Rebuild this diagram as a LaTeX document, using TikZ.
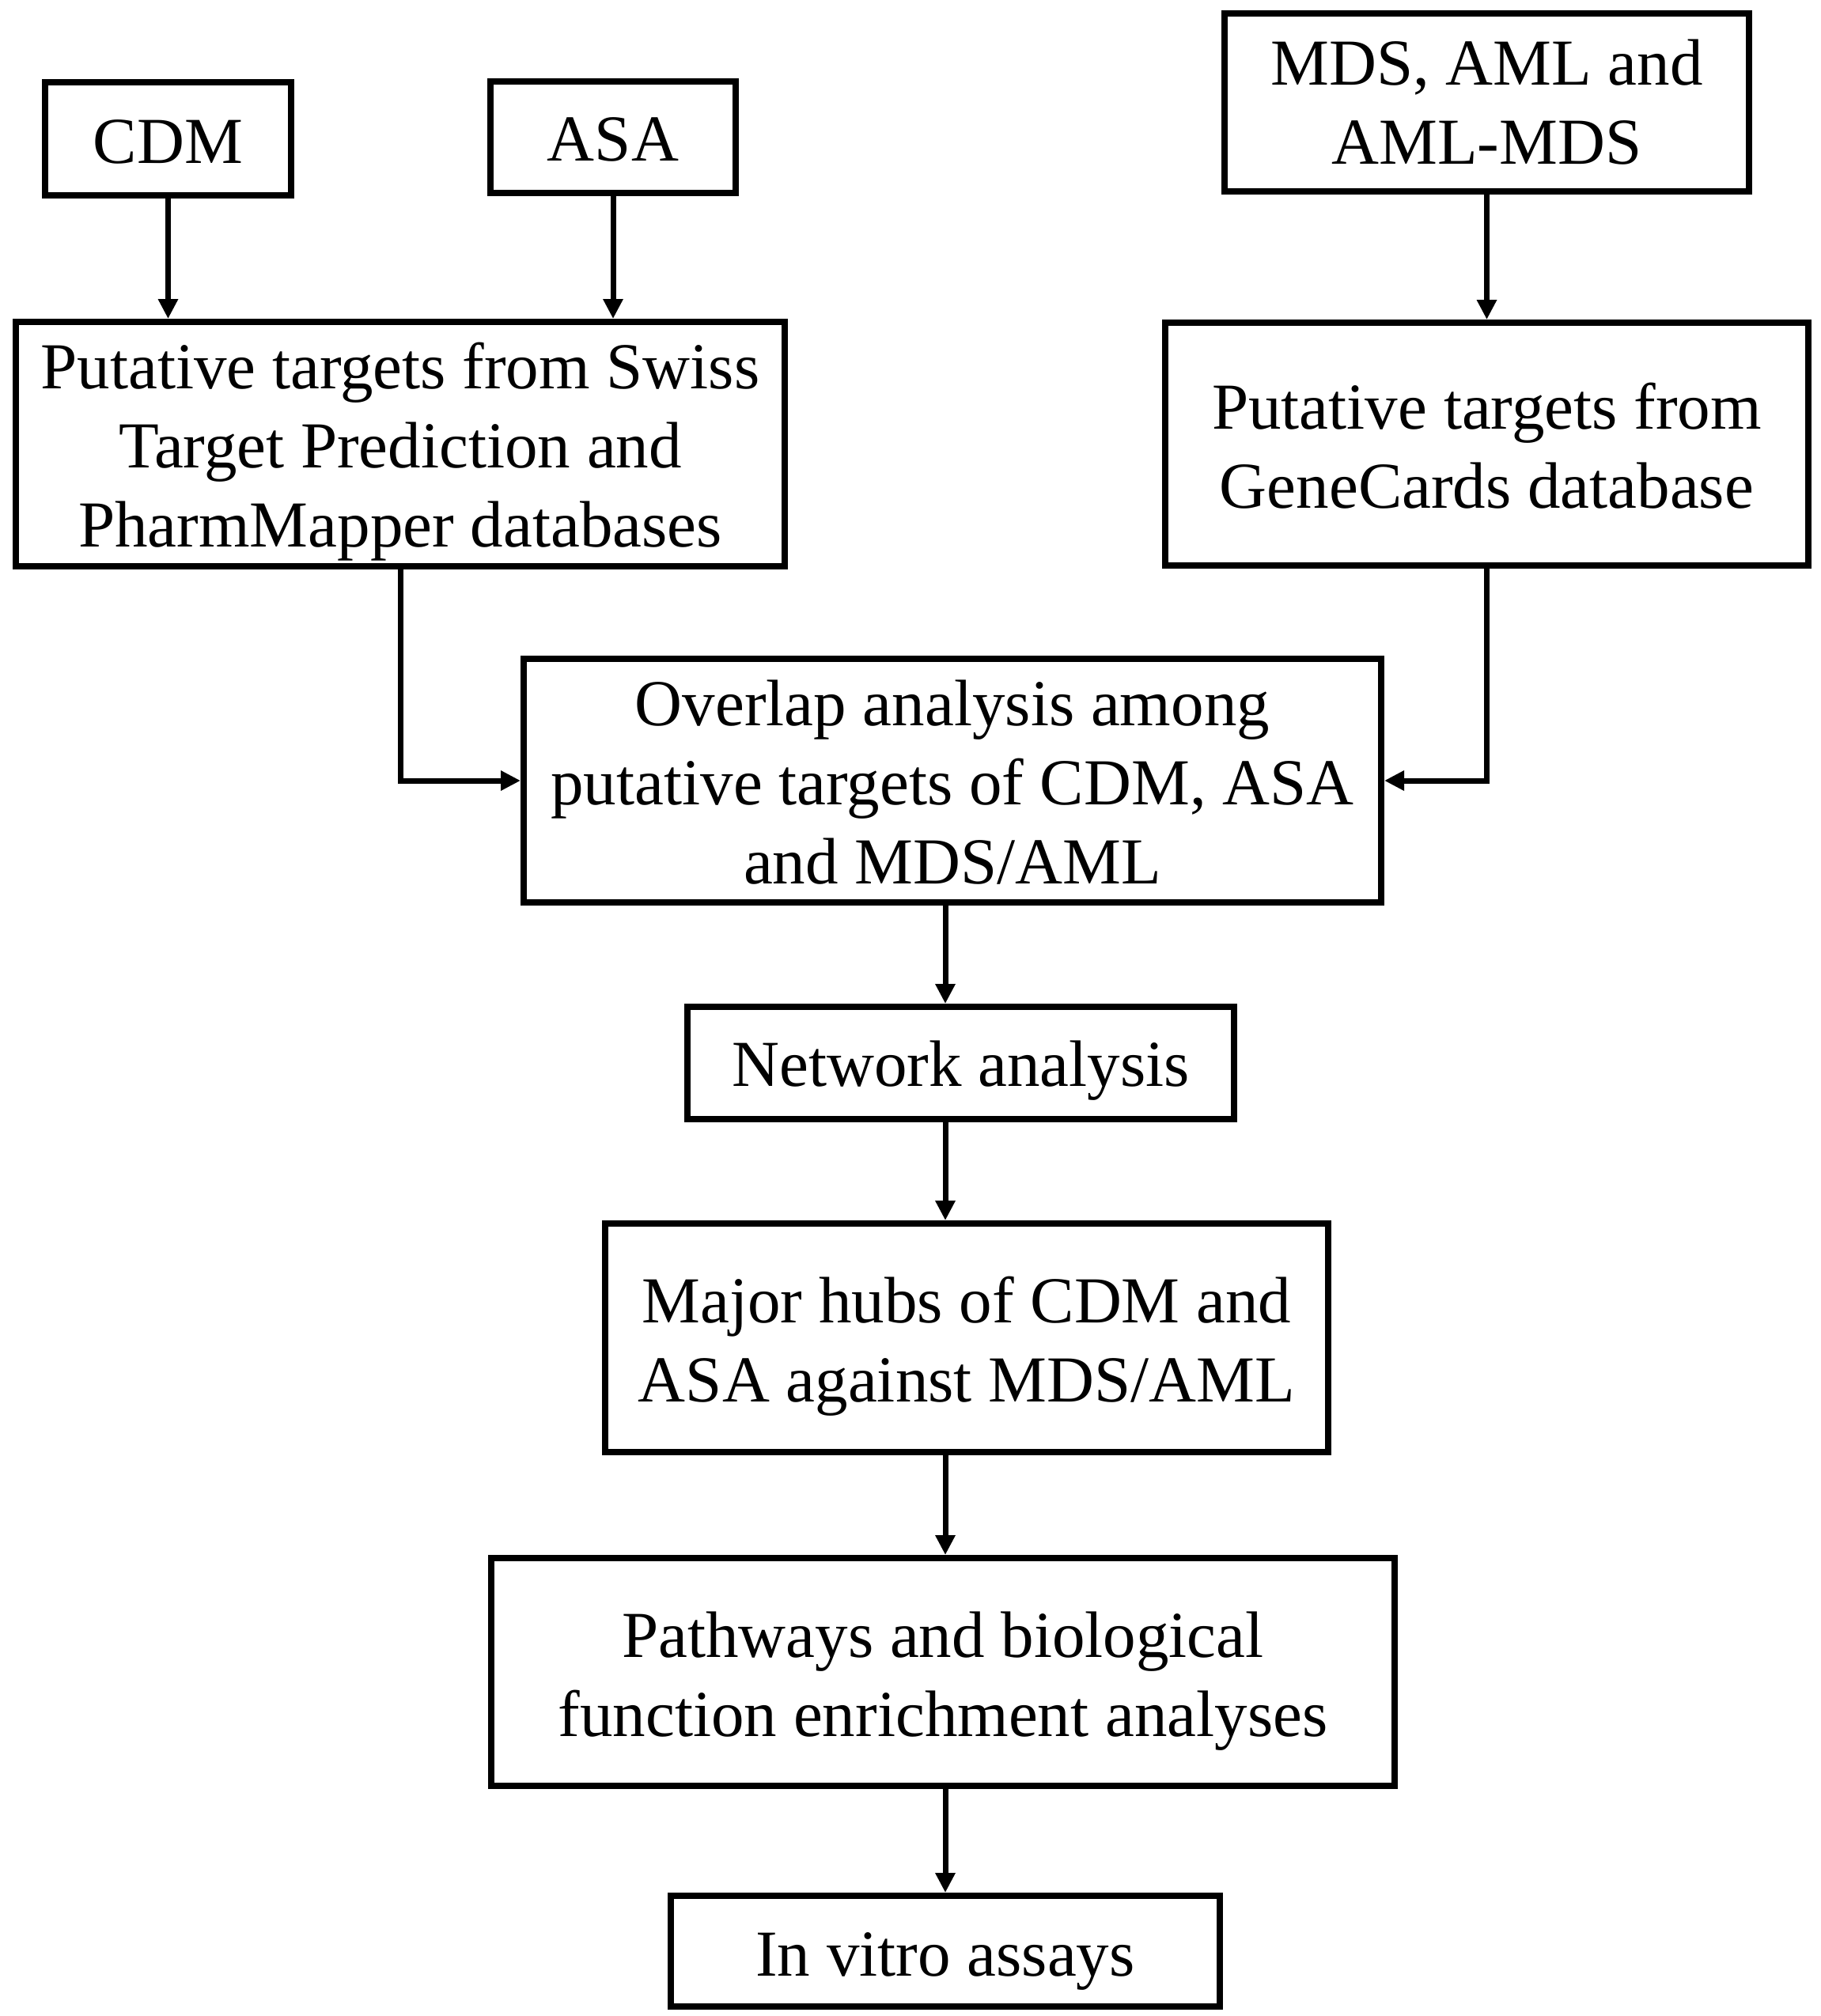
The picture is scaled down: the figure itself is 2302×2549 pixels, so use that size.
\documentclass[tikz,border=0pt]{standalone}
\usepackage{fontspec}
\setmainfont{Liberation Serif}
\usetikzlibrary{arrows.meta}
\newcommand\boxtext[2]{\raisebox{#1}[0pt][0pt]{\begin{tabular}[t]{@{}c@{}}#2\end{tabular}}}
\begin{document}
\begin{tikzpicture}[x=1pt,y=-1pt,
  box/.style={draw=black,line width=8pt,fill=white,inner sep=0pt,
    font=\fontsize{83}{100}\selectfont},
  conn/.style={line width=7pt,-{Triangle[length=25pt,width=24pt]}}]
\useasboundingbox[fill=white] (0,0) rectangle (2302,2549);
\node[box,minimum width=311pt,minimum height=143pt] (cdm) at (212.5,175.5) {\boxtext{-31pt}{CDM}};
\node[box,minimum width=310pt,minimum height=141pt] (asa) at (775,173.5) {\boxtext{-30pt}{ASA}};
\node[box,minimum width=663pt,minimum height=225pt] (mds) at (1879.5,129.5) {\boxtext{22pt}{MDS, AML and\\AML-MDS}};
\node[box,minimum width=972pt,minimum height=309pt] (sw) at (506,561.5) {\boxtext{70pt}{Putative targets from Swiss\\Target Prediction and\\PharmMapper databases}};
\node[box,minimum width=813pt,minimum height=307pt] (gc) at (1879.5,561.5) {\boxtext{19.5pt}{Putative targets from\\GeneCards database}};
\node[box,minimum width=1084pt,minimum height=308pt] (ov) at (1204,987) {\boxtext{70pt}{Overlap analysis among\\putative targets of CDM, ASA\\and MDS/AML}};
\node[box,minimum width=691pt,minimum height=142pt] (net) at (1214.5,1344) {\boxtext{-29pt}{Network analysis}};
\node[box,minimum width=914pt,minimum height=289pt] (hub) at (1222,1691.5) {\boxtext{19pt}{Major hubs of CDM and\\ASA against MDS/AML}};
\node[box,minimum width=1142pt,minimum height=288pt] (pw) at (1192,2114) {\boxtext{19pt}{Pathways and biological\\function enrichment analyses}};
\node[box,minimum width=694pt,minimum height=140pt] (iv) at (1195,2467) {\boxtext{-31pt}{In vitro assays}};
\coordinate (ax) at (1195,0);
\draw[conn] (cdm.south) -- (cdm.south |- sw.north);
\draw[conn] (asa.south) -- (asa.south |- sw.north);
\draw[conn] (mds.south) -- (mds.south |- gc.north);
\draw[conn] (sw.south) |- (ov.west);
\draw[conn] (gc.south) |- (ov.east);
\draw[conn] (ov.south -| ax) -- (net.north -| ax);
\draw[conn] (net.south -| ax) -- (hub.north -| ax);
\draw[conn] (hub.south -| ax) -- (pw.north -| ax);
\draw[conn] (pw.south -| ax) -- (iv.north -| ax);
\end{tikzpicture}
\end{document}
